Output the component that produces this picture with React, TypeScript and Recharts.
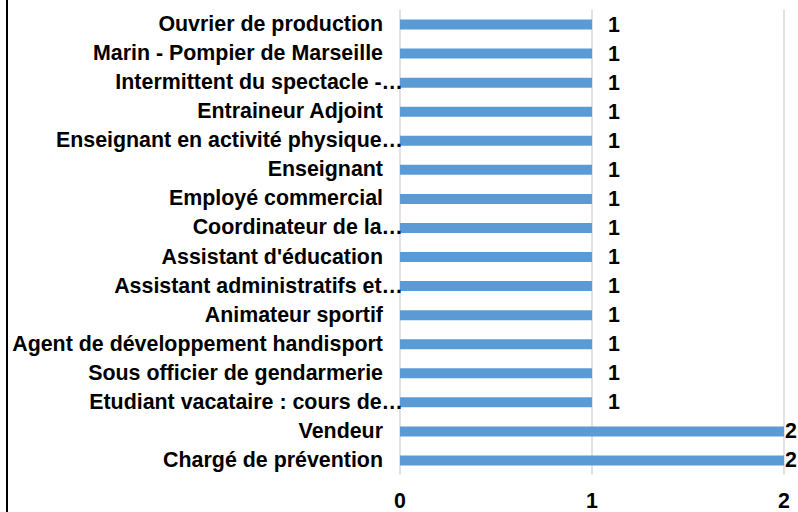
import { Bar, BarChart, CartesianGrid, LabelList, XAxis, YAxis } from "recharts"

const categories = [
  "Ouvrier de production",
  "Marin - Pompier de Marseille",
  "Intermittent du spectacle -…",
  "Entraineur Adjoint",
  "Enseignant en activité physique…",
  "Enseignant",
  "Employé commercial",
  "Coordinateur de la…",
  "Assistant d'éducation",
  "Assistant administratifs et…",
  "Animateur sportif",
  "Agent de développement handisport",
  "Sous officier de gendarmerie",
  "Etudiant vacataire : cours de…",
  "Vendeur",
  "Chargé de prévention",
]
const counts = [1, 1, 1, 1, 1, 1, 1, 1, 1, 1, 1, 1, 1, 1, 2, 2]
const xTicks = [0, 1, 2]

const data = categories.map((name, i) => ({ name, value: counts[i] }))

const FONT = "'Liberation Sans', Arial, sans-serif"
const FONT_SIZE = 21.4
const BLUE = "#5B9BD5"
const GRID = "#d9d9d9"

function CategoryTick({ x, y, payload }: any) {
  // truncated labels spill their ellipsis past the usual right edge
  const truncated = String(payload.value).endsWith("…")
  return (
    <text
      x={truncated ? x + 20 : x}
      y={y}
      textAnchor="end"
      dominantBaseline="central"
      fontFamily={FONT}
      fontWeight="bold"
      fontSize={FONT_SIZE}
      fill="#000"
    >
      {payload.value}
    </text>
  )
}

function ValueLabel({ x, y, width, height, value }: any) {
  const lx = Math.min(x + width + 16, 785)
  return (
    <text
      x={lx}
      y={y + height / 2}
      dominantBaseline="central"
      fontFamily={FONT}
      fontWeight="bold"
      fontSize={FONT_SIZE}
      fill="#000"
    >
      {value}
    </text>
  )
}

export default function App() {
  return (
    <div style={{ position: "absolute", left: 0, top: 0, width: 798, height: 512, background: "#fff" }}>
      {/* chart frame edge */}
      <div style={{ position: "absolute", left: 6, top: 0, width: 2, height: 512, background: "#000" }} />
      <BarChart
        width={798}
        height={512}
        data={data}
        layout="vertical"
        margin={{ top: 9.5, right: 14, left: 0, bottom: 0.5 }}
        barCategoryGap={0}
      >
        <CartesianGrid vertical horizontal={false} stroke={GRID} strokeWidth={1.5} />
        <XAxis
          type="number"
          domain={[0, 2]}
          ticks={xTicks}
          axisLine={false}
          tickLine={false}
          tickSize={0}
          tickMargin={18}
          height={37}
          tick={{ fontFamily: FONT, fontWeight: "bold", fontSize: FONT_SIZE, fill: "#000" }}
        />
        <YAxis
          type="category"
          dataKey="name"
          width={400}
          axisLine={false}
          tickLine={false}
          tickSize={0}
          tickMargin={17}
          interval={0}
          tick={<CategoryTick />}
        />
        <Bar dataKey="value" fill={BLUE} barSize={10} isAnimationActive={false}>
          <LabelList dataKey="value" content={<ValueLabel />} />
        </Bar>
      </BarChart>
    </div>
  )
}
